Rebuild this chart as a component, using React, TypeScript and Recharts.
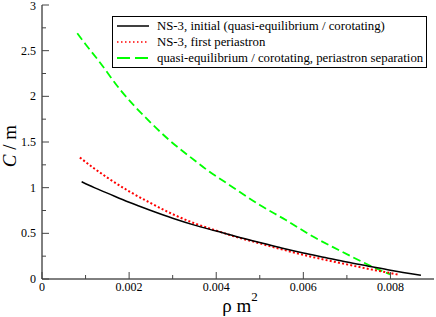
import { LineChart, Line, XAxis, YAxis, Legend } from "recharts";

// rho m^2 / C m readings
const initRho = [0.00091, 0.0012, 0.0015, 0.002, 0.0025, 0.003, 0.0035, 0.004, 0.0045, 0.005, 0.0055, 0.006, 0.0065, 0.007, 0.0075, 0.008, 0.0087];
const initC = [1.065, 1.0, 0.94, 0.84, 0.75, 0.665, 0.59, 0.525, 0.46, 0.4, 0.34, 0.285, 0.235, 0.185, 0.14, 0.095, 0.04];

const periRho = [0.00087, 0.0012, 0.0015, 0.002, 0.0025, 0.003, 0.0035, 0.004, 0.0045, 0.005, 0.0055, 0.006, 0.0065, 0.007, 0.0075, 0.008, 0.0082];
const periC = [1.33, 1.21, 1.11, 0.96, 0.83, 0.71, 0.61, 0.53, 0.455, 0.39, 0.325, 0.265, 0.21, 0.16, 0.11, 0.065, 0.045];

const qeRho = [0.00081, 0.001, 0.0013, 0.0018, 0.0025, 0.0029, 0.0035, 0.0038, 0.0043, 0.005, 0.0056, 0.0062, 0.0068, 0.0073, 0.0077, 0.008];
const qeC = [2.69, 2.57, 2.39, 2.07, 1.71, 1.53, 1.3, 1.19, 1.03, 0.81, 0.645, 0.47, 0.32, 0.2, 0.11, 0.05];

const xTicks = [0, 0.001, 0.002, 0.003, 0.004, 0.005, 0.006, 0.007, 0.008];
const xLabels = ["0", "", "0.002", "", "0.004", "", "0.006", "", "0.008"];
const yTicks = [0, 0.25, 0.5, 0.75, 1, 1.25, 1.5, 1.75, 2, 2.25, 2.5, 2.75, 3];
const yLabels = ["0", "", "0.5", "", "1", "", "1.5", "", "2", "", "2.5", "", "3"];

const seriesNames = [
  "NS-3, initial (quasi-equilibrium / corotating)",
  "NS-3, first periastron",
  "quasi-equilibrium / corotating, periastron separation",
];

const toRows = (xs: number[], ys: number[]) => xs.map((x, i) => ({ rho: x, c: ys[i] }));
const initData = toRows(initRho, initC);
const periData = toRows(periRho, periC);
const qeData = toRows(qeRho, qeC);

const FONT = "Liberation Serif, Times New Roman, serif";
const TICK = "#444";
const MAJ = 7;
const MIN = 4;

const BottomTick = (p: any) => {
  const lab = xLabels[p.index];
  const len = lab ? MAJ : MIN;
  return (
    <g>
      <line x1={p.x} y1={p.y} x2={p.x} y2={p.y - len} stroke={TICK} />
      {lab && (
        <text x={p.x} y={p.y + 12} textAnchor="middle" fontSize={12} fontFamily={FONT} fill="#000">
          {lab}
        </text>
      )}
    </g>
  );
};

const TopTick = (p: any) => {
  const len = xLabels[p.index] ? MAJ : MIN;
  return <line x1={p.x} y1={p.y} x2={p.x} y2={p.y + len} stroke={TICK} />;
};

const LeftTick = (p: any) => {
  const lab = yLabels[p.index];
  const len = lab ? MAJ : MIN;
  // keep the top label inside the picture
  const dy = p.index === yTicks.length - 1 ? 5 : 4;
  return (
    <g>
      <line x1={p.x} y1={p.y} x2={p.x + len} y2={p.y} stroke={TICK} />
      {lab && (
        <text x={p.x - 6} y={p.y + dy} textAnchor="end" fontSize={12} fontFamily={FONT} fill="#000">
          {lab}
        </text>
      )}
    </g>
  );
};

const RightTick = (p: any) => {
  const len = yLabels[p.index] ? MAJ : MIN;
  return <line x1={p.x} y1={p.y} x2={p.x - len} y2={p.y} stroke={TICK} />;
};

const XTitle = (props: any) => {
  const vb = props.viewBox;
  const cx = vb.x + vb.width / 2 + 2;
  return (
    <text x={cx} y={vb.y + 33} textAnchor="middle" fontSize={19} fontFamily={FONT} fill="#000">
      <tspan>ρ m</tspan>
      <tspan dy={-11} fontSize={13}>2</tspan>
    </text>
  );
};

const YTitle = (props: any) => {
  const vb = props.viewBox;
  const cy = vb.y + vb.height / 2 + 4;
  return (
    <text
      x={16}
      y={cy}
      transform={`rotate(-90 16 ${cy})`}
      textAnchor="middle"
      fontSize={19}
      fontFamily={FONT}
      fill="#000"
    >
      <tspan fontStyle="italic">C</tspan>
      <tspan> / m</tspan>
    </text>
  );
};

const samples = [
  { stroke: "#000", dash: undefined, width: 1.5 },
  { stroke: "#ff0000", dash: "1.5 2.5", width: 1.5 },
  { stroke: "#00ff00", dash: "13 5", width: 1.8 },
];

const LegendBox = () => (
  <div
    style={{
      border: "1px solid #000",
      background: "#fff",
      width: 313,
      padding: "1px 0",
      fontFamily: FONT,
      fontSize: 12.8,
      lineHeight: "16px",
    }}
  >
    {seriesNames.map((name, i) => (
      <div key={name} style={{ display: "flex", alignItems: "center", height: 16 }}>
        <svg width={44} height={16} style={{ flex: "none" }}>
          <line
            x1={4}
            y1={8}
            x2={36}
            y2={8}
            stroke={samples[i].stroke}
            strokeWidth={samples[i].width}
            strokeDasharray={samples[i].dash}
          />
        </svg>
        <span style={{ whiteSpace: "nowrap" }}>{name}</span>
      </div>
    ))}
  </div>
);

export default function App() {
  return (
    <div style={{ position: "absolute", left: 0, top: 0, width: 436, height: 317, background: "#fff" }}>
      <LineChart width={436} height={317} margin={{ top: 5, right: 2, bottom: 0, left: 0 }}>
        <XAxis
          xAxisId="b"
          dataKey="rho"
          type="number"
          domain={[0, 0.009]}
          ticks={xTicks}
          interval={0}
          tickSize={0}
          tickMargin={0}
          tickLine={false}
          tick={BottomTick}
          axisLine={{ stroke: "#000" }}
          height={38}
          label={{ content: XTitle }}
        />
        <XAxis
          xAxisId="t"
          orientation="top"
          type="number"
          domain={[0, 0.009]}
          ticks={xTicks}
          interval={0}
          tickSize={0}
          tickMargin={0}
          tickLine={false}
          tick={TopTick}
          axisLine={{ stroke: "#000" }}
          height={0}
        />
        <YAxis
          yAxisId="l"
          type="number"
          domain={[0, 3]}
          ticks={yTicks}
          interval={0}
          tickSize={0}
          tickMargin={0}
          tickLine={false}
          tick={LeftTick}
          axisLine={{ stroke: "#000" }}
          width={42}
          label={{ content: YTitle }}
        />
        <YAxis
          yAxisId="r"
          orientation="right"
          type="number"
          domain={[0, 3]}
          ticks={yTicks}
          interval={0}
          tickSize={0}
          tickMargin={0}
          tickLine={false}
          tick={RightTick}
          axisLine={{ stroke: "#000" }}
          width={0}
        />
        <Legend
          layout="vertical"
          align="center"
          verticalAlign="middle"
          content={LegendBox}
          wrapperStyle={{ position: "absolute", left: 112, top: 16, width: 315 }}
        />
        <Line
          xAxisId="b"
          yAxisId="l"
          data={qeData}
          dataKey="c"
          type="monotone"
          stroke="#00ff00"
          strokeWidth={1.8}
          strokeDasharray="8 4"
          dot={false}
          isAnimationActive={false}
        />
        <Line
          xAxisId="b"
          yAxisId="l"
          data={periData}
          dataKey="c"
          type="monotone"
          stroke="#ff0000"
          strokeWidth={2}
          strokeDasharray="2 2.2"
          dot={false}
          isAnimationActive={false}
        />
        <Line
          xAxisId="b"
          yAxisId="l"
          data={initData}
          dataKey="c"
          type="monotone"
          stroke="#000"
          strokeWidth={1.5}
          dot={false}
          isAnimationActive={false}
        />
      </LineChart>
    </div>
  );
}
